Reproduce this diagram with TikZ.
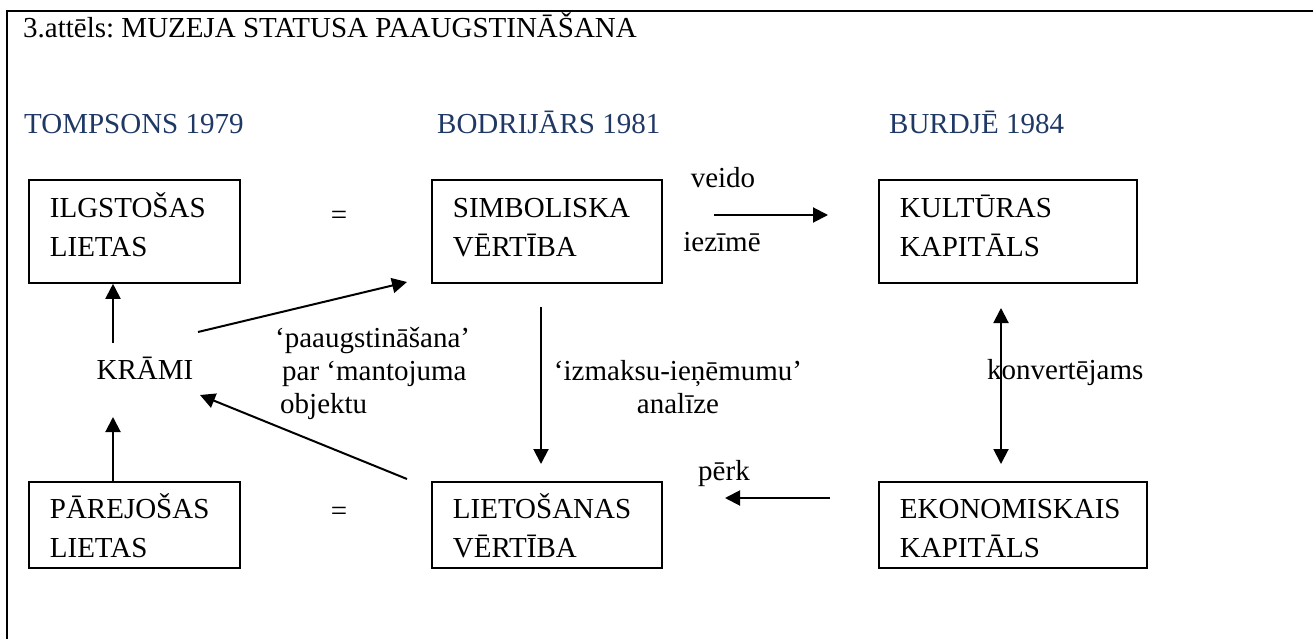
\documentclass[tikz,border=0pt]{standalone}
\usepackage{fontspec}
\setmainfont{Liberation Serif}
\usetikzlibrary{arrows.meta}
\definecolor{hdrc}{RGB}{31,56,100}
\frenchspacing
\begin{document}
\begin{tikzpicture}[x=1pt,y=-1pt,
  every node/.style={font=\fontsize{29}{39}\selectfont, inner sep=0pt},
  box/.style={draw, line width=1.8pt, anchor=north west, inner xsep=21pt, inner ysep=0pt, align=left},
  topbox/.style={box, text height=38pt, text depth=65pt},
  botbox/.style={box, text height=37pt, text depth=49pt},
  arr/.style={line width=2pt, -{Triangle[length=15pt,width=15pt]}},
  darr/.style={line width=2pt, {Triangle[length=15pt,width=15pt]}-{Triangle[length=15pt,width=15pt]}},
  hdr/.style={text=hdrc, anchor=base west},
  lbl/.style={anchor=base},
  mlbl/.style={font=\fontsize{29}{33}\selectfont}]
\useasboundingbox (0,0) rectangle (1313,639);
% frame
\draw[line width=2.5pt] (7,639) -- (7,11) -- (1313,11);
% title and headers
\node[anchor=base west] (title) at (23,38) {3.attēls: MUZEJA STATUSA PAAUGSTINĀŠANA};
\node[hdr] (h1) at (24,134) {TOMPSONS 1979};
\node[hdr] (h2) at (437,134) {BODRIJĀRS 1981};
\node[hdr] (h3) at (889,134) {BURDJĒ 1984};
% boxes
\node[topbox, text width=169pt] (ilg) at (28,179) {ILGSTOŠAS\\LIETAS};
\node[topbox, text width=188pt] (simb) at (431,179) {SIMBOLISKA\\VĒRTĪBA};
\node[topbox, text width=216pt] (kult) at (878,179) {KULTŪRAS\\KAPITĀLS};
\node[botbox, text width=169pt] (pare) at (28,481) {PĀREJOŠAS\\LIETAS};
\node[botbox, text width=188pt] (lieto) at (431,481) {LIETOŠANAS\\VĒRTĪBA};
\node[botbox, text width=226pt] (ekon) at (878,481) {EKONOMISKAIS\\KAPITĀLS};
% labels
\node[lbl] (eq1) at (339,224) {=};
\node[lbl] (eq2) at (339,520) {=};
\node[lbl] (krami) at (145,379) {KRĀMI};
\node[anchor=base west, align=left, mlbl] (lab1) at (275,413) {‘paaugstināšana’\\\hspace*{7pt}par ‘mantojuma\\\hspace*{5pt}objektu};
\node[anchor=base, align=center, mlbl] (lab2) at (678,413) {‘izmaksu-ieņēmumu’\\analīze};
\node[lbl] (veido) at (723,187) {veido};
\node[lbl] (iez) at (722,251) {iezīmē};
\node[lbl] (perk) at (724,480) {pērk};
\node[anchor=base west] (konv) at (987,379) {konvertējams};
% connector ends
\coordinate (k1) at (113,343);
\coordinate (k2) at (113,417);
\coordinate (k3s) at (198,332);
\coordinate (k3e) at (407,282);
\coordinate (k4s) at (407,479);
\coordinate (k4e) at (200,395);
\coordinate (d1) at (541,307);
\coordinate (d2) at (541,464);
\coordinate (v1) at (714,215);
\coordinate (v2) at (828,215);
\coordinate (p1) at (830,498);
\coordinate (p2) at (725,498);
\coordinate (c1) at (1001,308);
\coordinate (c2) at (1001,464);
% connectors
\draw[arr] (k1) -- (k1 |- ilg.south);
\draw[arr] (k2 |- pare.north) -- (k2);
\draw[arr] (k3s) -- (k3e);
\draw[arr] (k4s) -- (k4e);
\draw[arr] (d1) -- (d2);
\draw[arr] (v1) -- (v2);
\draw[arr] (p1) -- (p2);
\draw[darr] (c1) -- (c2);
\end{tikzpicture}
\end{document}
